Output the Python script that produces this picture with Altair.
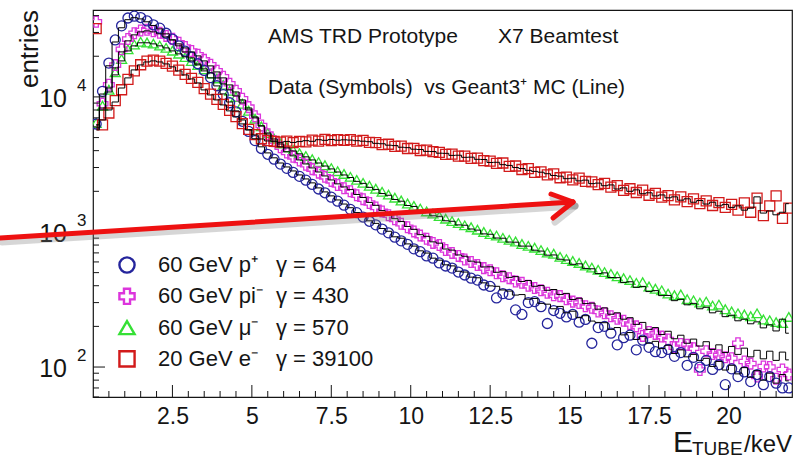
import altair as alt
import pandas as pd

# Tube-energy spectra: 0.2 keV bins from 0 to 22 keV (bin centres)
energy = [round(0.1 + 0.2 * i, 1) for i in range(110)]

# 60 GeV protons
proton_data = [
    6300, 11000, 17800, 26400, 33600, 38400, 39600, 38700, 36500, 34200,
    32300, 29600, 26800, 23900, 21800, 19700, 17600, 15700, 13900, 12100,
    10400, 9050, 7750, 6600, 5550, 4750, 4150, 3760, 3460, 3180,
    2960, 2760, 2580, 2420, 2250, 2080, 1950, 1810, 1690, 1580,
    1470, 1390, 1290, 1200, 1130, 1050, 985, 915, 860, 810,
    750, 715, 665, 640, 590, 560, 540, 505, 480, 455,
    440, 405, 395, 325, 350, 345, 265, 245, 300, 305,
    280, 210, 262, 250, 235, 245, 215, 225, 150, 196,
    200, 178, 146, 165, 172, 134, 158, 140, 130, 128,
    135, 120, 128, 103, 118, 100, 112, 96, 104, 74,
    97, 85, 92, 78, 88, 74, 85, 76, 70, 70,
]
proton_mc = [
    5900, 10500, 17000, 25500, 32500, 37300, 38600, 37800, 36000, 33800,
    31900, 29300, 26440, 23870, 21540, 19450, 17550, 15580, 13830, 12060,
    10520, 9170, 7880, 6750, 5700, 4900, 4270, 3850, 3540, 3240,
    3030, 2830, 2644, 2470, 2310, 2120, 1980, 1850, 1726, 1610,
    1512, 1392, 1330, 1210, 1158, 1061, 1012, 921, 899, 816,
    786, 725, 698, 640, 618, 571, 561, 512, 505, 463,
    458, 420, 399, 396, 372, 365, 341, 344, 318, 322,
    296, 292, 270, 281, 252, 259, 232, 240, 219, 214,
    213, 190, 196, 173, 180, 160, 168, 150, 155, 137,
    145, 126, 134, 119, 124, 112, 116, 101, 110, 95,
    103, 89, 99, 84, 94, 80, 90, 76, 88, 79,
]

# 60 GeV negative pions
pion_data = [
    36000, 8900, 12300, 17200, 22500, 26800, 29600, 31000, 31400, 30600,
    29800, 28300, 26900, 25200, 23400, 21900, 20500, 18800, 17300, 15600,
    14100, 12500, 11100, 9700, 8400, 7200, 6150, 5300, 4700, 4240,
    3880, 3600, 3380, 3150, 2920, 2750, 2560, 2390, 2230, 2110,
    2000, 1870, 1750, 1640, 1520, 1420, 1330, 1240, 1150, 1085,
    1010, 940, 890, 830, 800, 735, 700, 665, 625, 600,
    570, 540, 520, 495, 470, 455, 430, 420, 400, 385,
    370, 355, 340, 335, 318, 305, 298, 282, 275, 258,
    250, 238, 228, 220, 208, 200, 170, 182, 176, 168,
    160, 140, 148, 146, 138, 95, 131, 125, 122, 118,
    116, 150, 110, 106, 85, 101, 100, 82, 96, 88,
]
pion_mc = [
    6200, 8280, 11640, 16400, 21540, 26000, 28800, 30300, 30830, 30300,
    29300, 27800, 26440, 24700, 23060, 21540, 20120, 18470, 16970, 15310,
    13830, 12270, 10880, 9500, 8280, 7110, 6100, 5310, 4720, 4270,
    3920, 3660, 3415, 3190, 2980, 2780, 2600, 2428, 2270, 2155,
    2060, 1895, 1800, 1655, 1575, 1440, 1372, 1255, 1196, 1098,
    1046, 955, 928, 845, 826, 748, 734, 676, 661, 608,
    598, 551, 552, 503, 508, 461, 467, 430, 437, 396,
    401, 370, 375, 344, 351, 316, 323, 295, 297, 268,
    274, 246, 252, 226, 232, 207, 214, 190, 196, 174,
    184, 162, 172, 150, 161, 143, 154, 135, 146, 128,
    142, 124, 138, 119, 133, 115, 131, 112, 129, 113,
]

# 60 GeV negative muons
muon_data = [
    6400, 8600, 11300, 15200, 19100, 22500, 24400, 25600, 25300, 24800,
    24000, 23100, 22000, 20900, 19700, 18400, 17200, 16000, 14900, 13700,
    12300, 11100, 10000, 8900, 7900, 6900, 6050, 5400, 4900, 4520,
    4240, 4030, 3830, 3650, 3460, 3290, 3120, 2970, 2820, 2690,
    2560, 2430, 2310, 2200, 2090, 1985, 1890, 1795, 1710, 1625,
    1560, 1490, 1420, 1370, 1310, 1255, 1205, 1165, 1120, 1085,
    1040, 1000, 965, 940, 905, 875, 850, 815, 790, 765,
    735, 705, 690, 655, 630, 610, 590, 565, 545, 525,
    505, 490, 470, 455, 440, 420, 425, 395, 380, 370,
    350, 340, 345, 318, 312, 300, 305, 285, 290, 268,
    258, 250, 245, 238, 250, 225, 222, 215, 212, 235,
]
muon_mc = [
    6200, 8010, 10880, 14550, 18470, 21910, 23870, 25150, 25150, 24700,
    23870, 23060, 21910, 20830, 19800, 18470, 17260, 16130, 15070, 13830,
    12480, 11270, 10170, 9020, 8010, 6990, 6100, 5410, 4880, 4480,
    4190, 3980, 3790, 3600, 3415, 3240, 3080, 2930, 2780, 2644,
    2530, 2370, 2290, 2140, 2065, 1925, 1870, 1740, 1690, 1570,
    1545, 1440, 1420, 1318, 1305, 1210, 1200, 1128, 1122, 1052,
    1032, 968, 962, 902, 899, 842, 840, 786, 786, 733,
    722, 673, 676, 628, 620, 576, 581, 537, 534, 492,
    498, 460, 459, 423, 428, 389, 394, 362, 368, 338,
    339, 310, 317, 289, 296, 270, 277, 252, 259, 236,
    242, 220, 226, 209, 216, 195, 205, 185, 226, 178,
]

# 20 GeV electrons
electron_data = [
    32000, 6200, 7600, 9400, 11300, 13500, 15600, 17300, 18400, 18700,
    18400, 17700, 16900, 15800, 14700, 13700, 12800, 11500, 10500, 9600,
    8800, 7950, 7150, 6350, 5750, 5250, 4900, 4750, 4680, 4620,
    4700, 4580, 4690, 4640, 4780, 4700, 4850, 4740, 4820, 4760,
    4830, 4700, 4760, 4600, 4580, 4440, 4460, 4300, 4320, 4150,
    4160, 4010, 4030, 3930, 3890, 3760, 3770, 3640, 3650, 3510,
    3520, 3380, 3350, 3220, 3240, 3060, 3080, 2900, 2940, 2760,
    2790, 2650, 2690, 2520, 2550, 2430, 2500, 2370, 2350, 2240,
    2290, 2150, 2200, 2030, 2090, 1960, 2040, 1870, 1930, 1810,
    1860, 1730, 1820, 1680, 1760, 1620, 1700, 1570, 1650, 1520,
    1600, 1450, 1640, 1400, 1780, 1320, 1560, 1850, 1260, 1500,
]
electron_mc = [
    5700, 6750, 8010, 9170, 11640, 13830, 15850, 17260, 18150, 18470,
    18150, 17550, 16690, 15580, 14550, 13590, 12690, 11270, 10340, 9500,
    8720, 7880, 7110, 6310, 5700, 5230, 4880, 4720, 4660, 4610,
    4680, 4600, 4670, 4740, 4690, 4820, 4770, 4840, 4780, 4810,
    4790, 4740, 4700, 4660, 4530, 4500, 4390, 4360, 4240, 4210,
    4100, 4080, 3950, 3940, 3830, 3820, 3690, 3700, 3570, 3580,
    3450, 3440, 3270, 3280, 3150, 3110, 3000, 2950, 2860, 2810,
    2770, 2700, 2620, 2590, 2480, 2500, 2390, 2420, 2280, 2300,
    2200, 2230, 2080, 2120, 2000, 2050, 1920, 1950, 1850, 1880,
    1790, 1820, 1720, 1760, 1660, 1710, 1610, 1660, 1560, 1600,
    1520, 1560, 1450, 1500, 1820, 1380, 1430, 1340, 1400, 1620,
]

legend_labels = ["60 GeV p\u207a", "60 GeV pi\u207b", "60 GeV \u03bc\u207b", "20 GeV e\u207b"]
gamma_labels = ["\u03b3 = 64", "\u03b3 = 430", "\u03b3 = 570", "\u03b3 = 39100"]

x_major = [2.5, 5, 7.5, 10, 12.5, 15, 17.5, 20]
x_minor = [v / 2 for v in range(1, 44) if (v / 2) % 2.5 != 0]
y_major = [100, 1000, 10000]
y_exponents = ["2", "3", "4"]
y_minor = [m * 10 ** e for e in range(1, 5) for m in range(2, 10) if 60 <= m * 10 ** e <= 44000]

W, H = 699, 387
FONT = "Liberation Sans"
INK = "#151515"

series = [
    ("p", proton_data, proton_mc),
    ("pi", pion_data, pion_mc),
    ("mu", muon_data, muon_mc),
    ("e", electron_data, electron_mc),
]
rows = []
for key, data, mc in series:
    assert len(data) == len(mc) == len(energy)
    for e, d, m in zip(energy, data, mc):
        rows.append({"energy": e, "data": d, "mc": m, "particle": key})
hist = pd.DataFrame(rows)

styles = {
    "p": ("circle", "#25259c", 100),
    "pi": ("cross", "#dc35dc", 115),
    "mu": ("triangle-up", "#35e035", 100),
    "e": ("square", "#d21a1a", 100),
}

xs = alt.Scale(domain=[0, 22], nice=False, zero=False)
ys = alt.Scale(type="log", domain=[60, 44000], nice=False)
x_axis = alt.Axis(values=x_major, format=".3~g", ticks=False, domain=False, grid=False,
                  labelFont=FONT, labelFontSize=23, labelColor=INK, labelPadding=8,
                  labelFlush=False, title=None)
X = alt.X("energy:Q", scale=xs, axis=x_axis)

layers = []

# data symbols
for key in ["mu", "pi", "p", "e"]:
    shape, color, size = styles[key]
    layers.append(
        alt.Chart(hist[hist.particle == key]).mark_point(
            shape=shape, filled=False, color=color, size=size, strokeWidth=1.3,
            opacity=1, clip=True
        ).encode(x=X, y=alt.Y("data:Q", scale=ys, axis=None))
    )

# Monte Carlo histograms
layers.append(
    alt.Chart(hist).mark_line(interpolate="step", color="black", strokeWidth=1, clip=True)
    .encode(x=X, y=alt.Y("mc:Q", scale=ys, axis=None), detail="particle:N")
)

# inward ticks
def x_ticks(vals, length):
    return alt.Chart(pd.DataFrame({"t": vals})).mark_rule(color=INK, strokeWidth=1).encode(
        x=alt.X("t:Q", scale=xs, axis=x_axis), y=alt.value(H), y2=alt.value(H - length))


def y_ticks(vals, length):
    return alt.Chart(pd.DataFrame({"t": vals})).mark_rule(color=INK, strokeWidth=1).encode(
        y=alt.Y("t:Q", scale=ys, axis=None), x=alt.value(0), x2=alt.value(length))


layers += [x_ticks(x_major, 12), x_ticks(x_minor, 6), y_ticks(y_major, 12), y_ticks(y_minor, 6)]

# y tick labels written as powers of ten
ylab = pd.DataFrame({"t": y_major, "exp": y_exponents})
layers.append(
    alt.Chart(ylab).mark_text(text="10", align="right", baseline="middle", dy=2,
                              font=FONT, fontSize=25, color=INK)
    .encode(y=alt.Y("t:Q", scale=ys, axis=None), x=alt.value(-26))
)
layers.append(
    alt.Chart(ylab).mark_text(align="left", baseline="middle", dy=-11,
                              font=FONT, fontSize=17, color=INK)
    .encode(y=alt.Y("t:Q", scale=ys, axis=None), x=alt.value(-16), text="exp:N")
)

anchor = pd.DataFrame({"a": [0]})


def label(text, x, y, size, align="left", baseline="middle", angle=0, color=INK):
    return alt.Chart(anchor).mark_text(
        text=text, align=align, baseline=baseline, angle=angle,
        font=FONT, fontSize=size, color=color
    ).encode(x=alt.value(x), y=alt.value(y))


# axis titles
layers.append(label("entries", -55, 0, 26, align="right", baseline="alphabetic", angle=270))
layers.append(label("E", 580, 442, 30, baseline="alphabetic"))
layers.append(label("TUBE", 599, 445, 19, baseline="alphabetic"))
layers.append(label("/keV", 651, 442, 24, baseline="alphabetic"))

# header text
layers.append(label("AMS TRD Prototype", 175, 27, 21))
layers.append(label("X7 Beamtest", 405, 27, 21))
layers.append(label("Data (Symbols)\u00a0\u00a0vs Geant3\u207a MC (Line)", 175, 78, 21))

# legend
for i, key in enumerate(["p", "pi", "mu", "e"]):
    shape, color, _ = styles[key]
    ly = 255 + i * 31.3
    layers.append(
        alt.Chart(anchor).mark_point(shape=shape, filled=False, color=color, size=230,
                                     strokeWidth=2.4, opacity=1)
        .encode(x=alt.value(34), y=alt.value(ly))
    )
    layers.append(label(legend_labels[i], 65, ly, 22))
    layers.append(label(gamma_labels[i], 183, ly, 22))


# red arrow with a soft shadow
def segment(x1, y1, x2, y2, color, width, opacity=1.0):
    return alt.Chart(anchor).mark_rule(
        color=color, strokeWidth=width, strokeCap="round", opacity=opacity, clip=False
    ).encode(x=alt.value(x1), y=alt.value(y1), x2=alt.value(x2), y2=alt.value(y2))


arrow = [(-93, 228, 480, 192), (480, 192, 458, 184), (480, 192, 460, 208)]
for x1, y1, x2, y2 in arrow:
    layers.append(segment(x1 + 2, y1 + 4, x2 + 2, y2 + 4, "#777777", 7, 0.3))
for x1, y1, x2, y2 in arrow:
    layers.append(segment(x1, y1, x2, y2, "#ee1111", 5))

chart = alt.layer(*layers).properties(
    width=W,
    height=H,
    padding={"left": 93, "top": 10, "right": 13, "bottom": 62},
    autosize=alt.AutoSizeParams(type="none"),
    background="white",
).configure_view(stroke=INK, strokeWidth=1.2)

chart.save("out.html", embed_options={"renderer": "svg", "actions": False})
